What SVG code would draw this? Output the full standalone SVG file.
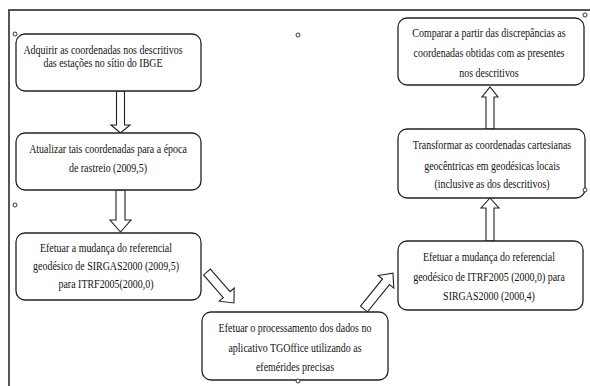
<svg xmlns="http://www.w3.org/2000/svg" width="590" height="386" viewBox="0 0 590 386">
<style>
.box{fill:#fff;stroke:#222;stroke-width:1.3}
.arr{fill:#fff;stroke:#222;stroke-width:1.1;stroke-linejoin:miter}
.dot{fill:#fff;stroke:#222;stroke-width:0.9}
text{font-family:"Liberation Serif","Times New Roman",serif;font-size:12px;fill:#111;text-anchor:middle}
</style>
<rect width="590" height="386" fill="#fff"/>
<g id="frame"><path d="M9,386 V10 H590" fill="none" stroke="#555" stroke-width="2"/></g>
<g id="connectors">
<polygon class="arr" points="116.5,91 124.5,91 124.5,125 130,125 120.5,133 111,125 116.5,125"/>
<polygon class="arr" points="116,190 125,190 125,220 131,220 120.5,232 110,220 116,220"/>
<polygon class="arr" points="0,-4.5 30,-4.5 30,-10 41,0 30,10 30,4.5 0,4.5" transform="translate(207,272) rotate(49)"/>
<polygon class="arr" points="0,-4.5 35,-4.5 35,-10 46,0 35,10 35,4.5 0,4.5" transform="translate(364,309) rotate(-51)"/>
<polygon class="arr" points="486,241 494,241 494,208 499,208 490,198 481,208 486,208"/>
<polygon class="arr" points="486,129 494,129 494,97 498,97 490,87 482,97 486,97"/>
</g>
<g id="n1"><rect class="box" x="16" y="34" width="185" height="57" rx="9"/>
<g transform="translate(103,0) scale(0.83,1)"><text x="0" y="54">Adquirir as coordenadas nos descritivos</text><text x="0" y="67">das estações no sítio do IBGE</text></g></g>
<g id="n2"><rect class="box" x="16" y="133" width="185" height="57" rx="9"/>
<g transform="translate(108,0) scale(0.83,1)"><text x="0" y="153">Atualizar tais coordenadas para a época</text><text x="0" y="172">de rastreio (2009,5)</text></g></g>
<g id="n3"><rect class="box" x="16" y="233" width="185" height="67" rx="9"/>
<g transform="translate(106,0) scale(0.83,1)"><text x="0" y="252">Efetuar a mudança do referencial</text><text x="0" y="270">geodésico de SIRGAS2000 (2009,5)</text><text x="0" y="288">para ITRF2005(2000,0)</text></g></g>
<g id="n4"><rect class="box" x="202" y="312" width="186" height="68" rx="9"/>
<g transform="translate(295,0) scale(0.83,1)"><text x="0" y="332">Efetuar o processamento dos dados no</text><text x="0" y="352">aplicativo TGOffice utilizando as</text><text x="0" y="371">efemérides precisas</text></g></g>
<g id="n5"><rect class="box" x="398" y="241" width="185" height="69" rx="9"/>
<g transform="translate(489,0) scale(0.83,1)"><text x="0" y="261">Efetuar a mudança do referencial</text><text x="0" y="281">geodésico de ITRF2005 (2000,0) para</text><text x="0" y="300">SIRGAS2000 (2000,4)</text></g></g>
<g id="n6"><rect class="box" x="398" y="129" width="187" height="69" rx="9"/>
<g transform="translate(492,0) scale(0.83,1)"><text x="0" y="149">Transformar as coordenadas cartesianas</text><text x="0" y="170">geocêntricas em geodésicas locais</text><text x="0" y="188">(inclusive as dos descritivos)</text></g></g>
<g id="n7"><rect class="box" x="398" y="18" width="186" height="67" rx="9"/>
<g transform="translate(489,0) scale(0.83,1)"><text x="0" y="37">Comparar a partir das discrepâncias as</text><text x="0" y="57">coordenadas obtidas com as presentes</text><text x="0" y="77">nos descritivos</text></g></g>
<g id="handles">
<circle class="dot" cx="15" cy="34" r="2"/>
<circle class="dot" cx="298" cy="35" r="2"/>
<circle class="dot" cx="15" cy="205" r="2"/>
<circle class="dot" cx="585" cy="15" r="2"/>
<circle class="dot" cx="585" cy="190" r="2"/>
<circle class="dot" cx="298" cy="381" r="2"/>
</g>
</svg>
